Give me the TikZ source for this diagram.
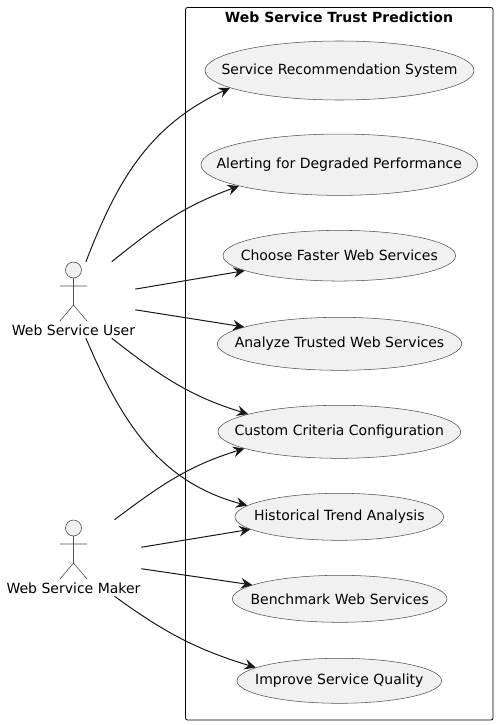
\documentclass[tikz,border=0pt]{standalone}
\usepackage{fontspec}
\setmainfont{DejaVu Sans}
\usetikzlibrary{arrows.meta,shapes.geometric}
\definecolor{ucfill}{HTML}{F1F1F1}
\definecolor{ucline}{HTML}{181818}
\definecolor{ucedge}{HTML}{505050}
\newcommand{\uctext}[1]{\makebox[0pt]{#1}}
\tikzset{
  usecase/.style={ellipse,draw=ucedge,line width=0.4pt,fill=ucfill,inner sep=0pt,font=\fontsize{10.5}{12}\selectfont,text=black},
  actorbox/.style={inner sep=0pt},
  actorname/.style={font=\fontsize{10.5}{12}\selectfont,inner sep=0pt,text=black},
  stick/.style={draw=ucedge,line width=0.45pt},
  link/.style={-{Stealth[length=8.5pt,width=8pt,inset=3pt]},line width=0.75pt,draw=ucline}
}
\begin{document}
\begin{tikzpicture}[x=0.75pt,y=-0.75pt]
   \useasboundingbox (0,0) rectangle (498,725);
   \node[draw,rounded corners=1.5pt,line width=0.6pt,minimum width=230.6pt,minimum height=534.4pt,inner sep=0pt] (trust) at (339.25,363.75) {};
   \node[font=\bfseries\fontsize{10.5}{12}\selectfont,inner sep=0pt] (trusttitle) at (339,17) {Web Service Trust Prediction};

   \node[usecase,minimum width=201.75pt,minimum height=44.25pt] (recsys) at (339.5,70.5) {\uctext{Service Recommendation System}};
   \node[usecase,minimum width=207.5pt,minimum height=46pt] (alerting) at (339.3,164.7) {\uctext{Alerting for Degraded Performance}};
   \node[usecase,minimum width=174.5pt,minimum height=38pt] (faster) at (339.3,255.7) {\uctext{Choose Faster Web Services}};
   \node[usecase,minimum width=183.3pt,minimum height=39.75pt] (trusted) at (339.5,343.8) {\uctext{Analyze Trusted Web Services}};
   \node[usecase,minimum width=182pt,minimum height=39.75pt] (criteria) at (339.3,431.8) {\uctext{Custom Criteria Configuration}};
   \node[usecase,minimum width=156.5pt,minimum height=35.25pt] (history) at (339.3,516.8) {\uctext{Historical Trend Analysis}};
   \node[usecase,minimum width=161pt,minimum height=35.25pt] (benchmark) at (339.7,598.8) {\uctext{Benchmark Web Services}};
   \node[usecase,minimum width=153.5pt,minimum height=33.75pt] (quality) at (339.3,680.8) {\uctext{Improve Service Quality}};

   % actors
   \node[actorbox,minimum width=92.25pt,minimum height=57pt] (user) at (73.5,300) {};
   \node[actorbox,minimum width=101.25pt,minimum height=57pt] (maker) at (73.5,558) {};
   \node[actorname] (username) at (73.5,330) {Web Service User};
   \node[actorname] (makername) at (73.5,588) {Web Service Maker};
   \foreach \who in {user,maker} {
      \begin{scope}[shift={(\who.center)}]
         \filldraw[stick,fill=ucfill] (0,-30) circle (6pt);
         \draw[stick] (0,-22) -- (0,5) (-13.5,-14) -- (13.5,-14) (-13.5,21) -- (0,5) -- (13.5,21);
      \end{scope}
   }

   \draw[link] (user.72) to[out=69,in=205] (recsys.189.3);
   \draw[link] (user.45) to[out=39,in=200] (alerting.192.3);
   \draw[link] (user.10) -- (faster.189.1);
   \draw[link] (user.-9) -- (trusted.170.2);
   \draw[link] (user.-45) to[out=-38,in=163] (criteria.169.1);
   \draw[link] (user.-72) to[out=-67,in=165] (history.173.4);
   \draw[link] (maker.43) to[out=37,in=197] (criteria.190.9);
   \draw[link] (maker.9) -- (history.188.7);
   \draw[link] (maker.-9) -- (benchmark.171.1);
   \draw[link] (maker.-43) to[out=-36,in=163] (quality.171);
\end{tikzpicture}
\end{document}
